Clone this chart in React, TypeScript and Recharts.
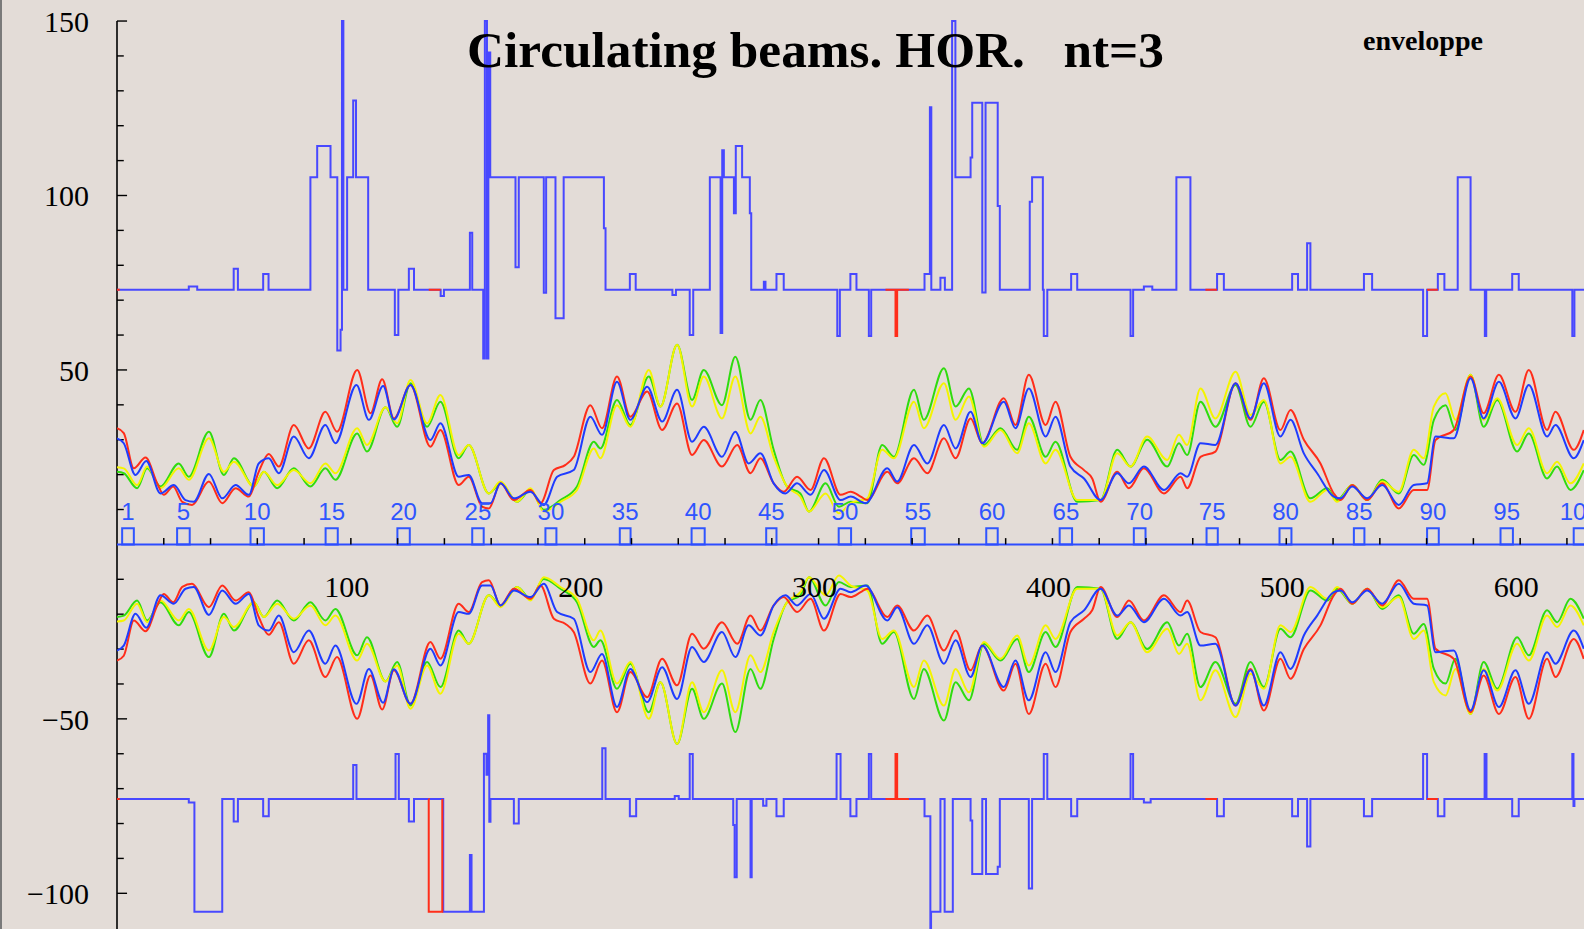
import { LineChart, Line, XAxis, YAxis, ReferenceLine, ReferenceArea, ReferenceDot } from "recharts"

const W = 1584
const H = 929
const X_MAX = 627.3
const Y_MIN = -110.23
const Y_MAX = 156.03

// envelope samples (upper half, lower half is the mirror)
const redX = [0, 2.9, 7.2, 12.2, 17.2, 20.0, 24.0, 27.9, 32.1, 39.3, 45.0, 50.7, 56.4, 60.6, 64.9, 69.2, 75.6, 82.0, 89.1, 94.1, 102.7, 108.4, 113.4, 118.4,
  125.5, 134.0, 138.3, 146.1, 150.4, 156.1, 159.0, 164.0, 169.7, 176.8, 181.1, 186.8, 191.8, 195.3, 202.4, 207.4, 213.8, 219.5, 226.7, 233.1, 239.5, 245.9, 250.9, 258.7, 265.2, 270.9, 275.1, 280.8, 285.1, 290.8,
  296.6, 302.3, 309.4, 313.7, 318.0, 320.8, 329.4, 333.6, 340.8, 346.5, 353.6, 358.6, 365.0, 370.0, 379.2, 384.2, 389.9, 397.1, 401.3, 407.7, 413.5, 417.0, 420.6, 427.7, 432.7, 439.1, 447.7, 454.8, 457.6,
  463.3, 469.7, 478.3, 484.7, 490.4, 497.5, 501.8, 507.5, 514.6, 520.3, 523.2, 528.2, 534.6, 541.0, 548.1, 554.5, 560.2, 563.8, 571.6, 578.8, 584.4, 590.9, 598.0, 603.7, 611.5, 615.1, 622.9, 627.2]
const redY = [33.3, 31.9, 21.8, 24.9, 17.5, 14.2, 16.6, 12.2, 11.3, 18, 11.8, 16.1, 13.7, 20.8, 25.9, 22.3, 34.2, 27.5, 38, 32.3, 50, 37.6, 47.3, 36.1,
  45.7, 28, 32.8, 17, 19.4, 10.8, 10.3, 17.5, 12.7, 15.6, 11.8, 21.3, 22.8, 25.1, 39.9, 33.3, 48.1, 36.6, 43.8, 32.8, 40.4, 25.6, 29.9, 22.3, 28.5, 20.4, 24.7, 17.5, 15.1, 19.4,
  15.6, 24.7, 14.2, 15.1, 13.7, 12.7, 20.8, 17.5, 24.7, 20.4, 30.4, 24.7, 36.1, 29, 41.9, 34.2, 48.6, 34.2, 40.9, 25.1, 21.3, 18.9, 12.2, 20.8, 16.1, 21.8, 14.6, 19.4, 16.1,
  25.1, 26.6, 46.2, 35.7, 47.6, 32.8, 38.5, 30, 23.2, 14.6, 12.7, 17, 12.7, 17.5, 10.3, 15.6, 15.6, 29.9, 32.8, 48.1, 37.6, 48.6, 38, 50, 32.8, 38, 27.1, 32.8]

const blueX = [0, 2.9, 7.9, 12.5, 18.6, 24.3, 29.3, 32.8, 39.3, 45.0, 50.7, 56.4, 60.6, 64.9, 69.2, 75.6, 82.0, 89.1, 93.4, 102.4, 107.7, 113.8, 118.4,
  125.5, 134.0, 138.3, 146.1, 150.4, 156.1, 159.7, 164.0, 169.7, 176.8, 182.5, 188.2, 195.3, 202.4, 207.4, 213.8, 219.5, 226.7, 233.1, 239.5, 245.9, 250.9, 258.7, 264.4, 270.1, 275.1, 280.8, 285.8, 290.8,
  296.6, 302.3, 309.4, 313.7, 320.1, 329.4, 333.6, 340.8, 346.5, 353.6, 358.6, 365.0, 370.0, 379.2, 384.2, 389.9, 397.1, 401.3, 407.7, 413.5, 420.6, 427.7, 432.7, 439.1, 447.7, 454.8, 457.6,
  463.3, 469.7, 478.3, 484.7, 490.4, 497.5, 501.8, 507.5, 513.2, 520.3, 523.2, 528.2, 534.6, 541.0, 548.1, 554.5, 560.2, 563.8, 571.6, 578.8, 584.4, 590.9, 598.0, 603.7, 611.5, 615.1, 622.9, 627.2]
const blueY = [30.4, 29, 19.9, 23.9, 14.6, 17, 12.7, 12.2, 20.2, 13.2, 17, 14.2, 23.2, 24.7, 20.4, 30.9, 24.7, 34.2, 29, 45.7, 35.7, 45.4, 35.8,
  45.7, 29.9, 34.7, 19.4, 19.9, 11.8, 11.8, 17.5, 13.2, 15.1, 11.3, 19.4, 21.3, 36.6, 31.4, 46.6, 35.7, 45.2, 35.2, 44.3, 29.4, 33.7, 25.1, 32.3, 23.2, 26.1, 17.5, 14.6, 17.5,
  14.2, 21.3, 12.7, 13.7, 11.8, 21.8, 18, 28.5, 23.2, 34.2, 27.5, 38, 29, 40.9, 33.3, 44.7, 30.9, 36.6, 22.3, 18.9, 12.7, 20.4, 17.5, 22.3, 15.6, 20.4, 19.4,
  29, 28.5, 46.2, 36.1, 46.2, 30.9, 35.7, 26.1, 20.4, 13.7, 13.2, 16.6, 13.2, 17, 11.3, 17, 17.5, 30.9, 30.4, 47.6, 36.1, 46.6, 36.1, 45.7, 30.9, 34.2, 24.7, 29.9]

// green and yellow share sample positions
const gyX = [0, 2.9, 8.6, 12.9, 18.6, 26.4, 30.7, 39.3, 45.7, 50.0, 58.5, 62.8, 68.5, 75.6, 82.7, 89.1, 93.4, 102.7, 106.9, 114.8, 119.8,
  125.5, 132.6, 138.3, 146.1, 150.4, 159.0, 164.0, 171.1, 176.8, 182.5, 189.6, 196.7, 203.9, 206.7, 213.8, 219.5, 227.4, 232.4, 239.5, 245.9, 250.9, 258.7, 264.4, 270.9, 275.1, 280.8, 286.5, 292.2,
  295.9, 303.0, 308.7, 313.7, 320.8, 327.2, 332.2, 340.8, 345.0, 353.6, 358.6, 364.3, 370.7, 377.8, 384.9, 389.9, 397.1, 401.3, 410.6, 420.6, 427.7, 433.4, 440.5, 449.1, 454.1, 457.6,
  463.3, 469.7, 478.3, 484.7, 490.4, 497.5, 501.8, 510.3, 517.5, 521.7, 528.2, 534.6, 541.0, 548.1, 554.5, 558.8, 563.1, 568.1, 572.3, 578.8, 584.4, 590.2, 598.7, 603.7, 611.5, 615.8, 621.5, 627.2]
const greenY = [20.8, 20.4, 16.1, 21.8, 16.6, 23.2, 19.4, 32.3, 19.9, 24.7, 16.6, 20.8, 16.1, 21.8, 16.6, 21.8, 18.5, 31.8, 26.6, 39.3, 33.7,
  46.2, 33.7, 40.9, 24.7, 28.5, 14.6, 17.5, 12.2, 15.6, 9.9, 12.7, 16.6, 29.4, 27.5, 41.4, 34.2, 48.1, 39.5, 57.2, 41.4, 50, 39.9, 53.8, 35.7, 41.4, 27.1, 16.6, 14.6,
  9.4, 17.5, 10.8, 12.2, 11.8, 28.5, 25.1, 44.3, 35.7, 50.5, 39.5, 44.7, 28.5, 33.3, 27.1, 36.6, 25.1, 29.4, 12.2, 12.7, 27.1, 22.3, 30, 22.3, 29, 25.6,
  40.9, 33.7, 45.7, 33.7, 40.9, 24.2, 26.6, 13.2, 16.1, 12.7, 17, 12.7, 18.5, 14.6, 25.6, 22.8, 35.7, 39.9, 32.8, 48.6, 33.7, 41.4, 26.6, 31.8, 18.9, 22.3, 15.6, 21.3]
const yellowY = [22.1, 21.8, 17, 22.3, 16.1, 21.8, 18.5, 30.4, 20.8, 23.7, 16.6, 20.8, 17, 21.3, 17.5, 23.2, 20.4, 33.3, 28.5, 39.3, 34.7,
  47.1, 34.7, 42.8, 25.6, 28.5, 14.6, 18, 12.2, 16.1, 9.4, 12.2, 15.6, 27.5, 24.7, 39.9, 33.7, 50, 39.5, 57.2, 39.5, 48.1, 36.1, 48.1, 31.8, 36.6, 25.1, 16.6, 13.7,
  9.4, 14.6, 8.9, 11.8, 13.2, 27.1, 24.7, 40.9, 33.3, 46.2, 35.7, 42.4, 28, 32.8, 26.1, 34.7, 23.2, 27.1, 12.7, 12.7, 26.1, 22.3, 30.9, 24.2, 31.4, 28.5,
  44.7, 36.1, 49.5, 37.1, 41.4, 23.2, 25.1, 12.2, 15.6, 12.2, 17, 12.7, 18, 15.1, 27.1, 24.7, 39.5, 43.3, 35.7, 48.6, 35.7, 41.9, 28.5, 33.3, 20.4, 23.7, 17.5, 23.2]

// aperture step lines: [position where the level starts, level]
const upperSteps: [number, number][] = [[0, 73], [30.7, 73.9], [34.3, 73], [49.9, 79], [51.7, 73], [62.5, 77.5], [64.8, 73], [82.7, 105.2], [85.6, 114.2], [91.3, 105.2], [94.2, 55.6], [95.6, 61.5], [96.2, 150], [96.8, 73], [98.4, 105.2], [101, 127.2], [102.2, 105.2], [107.4, 73], [118.8, 60], [120.3, 73], [124.8, 79], [127, 73], [138.4, 71.2], [139.8, 73], [150.9, 89.3], [151.9, 73], [156.6, 53.3], [157.3, 150], [158.2, 53.3], [158.8, 141], [159.6, 105.2], [170.4, 79.4], [171.8, 105.2], [182.5, 72.1], [183.5, 105.2], [187.5, 64.8], [191, 105.2], [208.2, 90.6], [208.9, 73], [219.3, 77.5], [221.8, 73], [237.5, 71.5], [239, 73], [244.9, 60], [246.4, 73], [253.5, 105.2], [258.1, 60.6], [258.8, 113], [259.5, 105.2], [263.8, 94.9], [264.6, 114.2], [267.3, 105.2], [270.6, 94.9], [271.2, 73], [276.6, 75.3], [277.3, 73], [282, 77.5], [285.1, 73], [308, 59.7], [309.1, 73], [313.6, 77.5], [316.2, 73], [321.5, 59.7], [322.5, 73], [345.3, 77.5], [347.6, 125.3], [348.2, 73], [352.1, 76.4], [354, 73], [357.1, 150], [358.5, 105.2], [365, 110.9], [365.7, 126.6], [370, 72.2], [371.4, 126.6], [376.6, 97], [377.5, 73], [390.3, 98.2], [391.3, 105.2], [395.9, 73], [396.3, 59.7], [397.8, 73], [408, 77.5], [410.6, 73], [433.4, 59.7], [434.5, 73], [439.1, 73.9], [442.7, 73], [453, 105.2], [459, 73], [470.4, 77.5], [473.3, 73], [502.5, 77.5], [505, 73], [508.9, 86.3], [510.3, 73], [533.2, 77.5], [536.7, 73], [558.5, 59.7], [560.2, 73], [564.8, 77.5], [567.6, 73], [573.3, 105.2], [578.8, 73], [584.9, 59.7], [585.5, 73], [596.6, 77.5], [599.4, 73], [622.3, 59.7], [623.2, 73], [627.3, 73]]

const lowerSteps: [number, number][] = [[0, -73], [30.7, -74], [33.1, -105.3], [45, -73], [49.9, -79.4], [51.7, -73], [62.5, -77.9], [64.9, -73], [101, -63.2], [102.4, -73], [119.1, -60.1], [120.5, -73], [124.8, -79.4], [127, -73], [139.5, -105.3], [150.9, -89], [151.6, -105.3], [156.9, -60], [158, -66], [158.7, -49], [159.2, -79.5], [159.7, -73], [169.7, -80], [171.8, -73], [207.5, -58.4], [208.9, -73], [219.3, -77.9], [222, -73], [238.5, -72.1], [240.2, -73], [244.9, -60.1], [246.2, -73], [263.5, -80.4], [264.1, -95.4], [265, -73], [270.9, -95.4], [271.4, -73], [276.3, -74.9], [277.7, -73], [282, -77.9], [285.1, -73], [307.7, -60.1], [309.4, -73], [313.6, -77.9], [316.2, -73], [321.5, -60.1], [322.5, -73], [345.3, -77.9], [347.8, -112], [348.1, -105.3], [352.1, -73], [353.9, -105.3], [357.4, -73], [365, -79.1], [365.7, -94.5], [370, -73], [371.6, -94.5], [376.6, -92.4], [377.5, -73], [389.9, -98.6], [391.3, -73], [396.3, -60.1], [397.8, -73], [408, -77.9], [410.6, -73], [433.4, -60.1], [434.5, -73], [439.1, -74], [442, -73], [470.4, -77.9], [473.3, -73], [502.5, -77.9], [505, -73], [508.9, -86.6], [510.3, -73], [533.2, -77.9], [536.7, -73], [558.5, -60.1], [560.2, -73], [564.8, -77.9], [567.6, -73], [584.8, -60.1], [585.6, -73], [596.6, -77.9], [599.4, -73], [622.3, -60.1], [622.8, -75], [623.2, -73], [627.3, -73]]

// second beam, visible only where it differs
const upperRedSteps: [number, number | null][] = [[0, 73], [1.2, 73], [1.3, null], [133.3, 73], [138.4, 73], [138.5, null], [328.6, 73], [332.9, 59.7], [333.6, 73], [338.6, 73], [338.7, null], [465.4, 73], [470.4, 73], [470.5, null], [560.2, 73], [564.8, 73]]
const lowerRedSteps: [number, number | null][] = [[0, -73], [1.2, -73], [1.3, null], [133.2, -73], [133.3, -105.3], [139.1, -73], [139.2, null], [328.6, -73], [332.9, -60.1], [333.6, -73], [338.6, -73], [338.7, null], [465.4, -73], [470.4, -73], [470.5, null], [560.2, -73], [564.8, -73]]

// element markers
const markerLabels = ["1", "5", "10", "15", "20", "25", "30", "35", "40", "45", "50", "55", "60", "65", "70", "75", "80", "85", "90", "95", "100"]
const markerStart = [2.2, 25.7, 57.1, 89.2, 119.9, 151.9, 183.2, 215, 245.7, 277.6, 308.6, 339.6, 371.7, 403.1, 434.8, 465.9, 497.1, 528.9, 560.2, 591.6, 622.9]
const markerEnd = [7.2, 31.1, 62.8, 94.4, 125.2, 156.8, 187.9, 219.6, 251.3, 282, 313.9, 345.4, 376.6, 408.4, 439.8, 470.7, 502.2, 533.4, 565.2, 596.9, 628]

const yTickLabels = [-100, -50, 50, 100, 150]
const yTicks = [-100, -90, -80, -70, -60, -50, -40, -30, -20, -10, 10, 20, 30, 40, 50, 60, 70, 80, 90, 100, 110, 120, 130, 140, 150]
const xTicks = [20, 40, 60, 80, 100, 120, 140, 160, 180, 200, 220, 240, 260, 280, 300, 320, 340, 360, 380, 400, 420, 440, 460, 480, 500, 520, 540, 560, 580, 600, 620]
const xTickLabels = [100, 200, 300, 400, 500, 600]

const SERIF = "'Liberation Serif', 'Times New Roman', serif"
const C_RED = "#ff2d1a"
const C_BLUE = "#1f3cff"
const C_GREEN = "#2fdc0e"
const C_YELLOW = "#f4f400"
const C_STEP = "#4848ff"
const C_MARK = "#2f55ff"

const pts = (xs: number[], ys: number[], sign = 1) => xs.map((x, i) => ({ x, y: sign * ys[i] }))
const stepPts = (s: [number, number | null][]) => s.map(([x, y]) => ({ x, y }))

const fmt = (v: number) => (v < 0 ? `\u2212${-v}` : `${v}`)

export default function App() {
  const env = [
    { key: "g", data: gyX, ys: greenY, color: C_GREEN },
    { key: "y", data: gyX, ys: yellowY, color: C_YELLOW },
    { key: "r", data: redX, ys: redY, color: C_RED },
    { key: "b", data: blueX, ys: blueY, color: C_BLUE },
  ]

  return (
    <div style={{ position: "absolute", left: 0, top: 0, width: W, height: H, background: "#e3dcd7", overflow: "hidden" }}>
      <LineChart width={W} height={H} margin={{ top: 0, right: 0, bottom: 0, left: 0 }}>
        <XAxis type="number" dataKey="x" domain={[0, X_MAX]} allowDataOverflow hide />
        <YAxis
          type="number"
          domain={[Y_MIN, Y_MAX]}
          allowDataOverflow
          width={117}
          ticks={yTickLabels}
          interval={0}
          axisLine={false}
          tickLine={false}
          tickSize={0}
          tickMargin={28}
          tickFormatter={fmt}
          tick={{ fill: "#000", fontSize: 30, fontFamily: SERIF }}
        />

        <ReferenceLine segment={[{ x: 0, y: 150 }, { x: 0, y: Y_MIN }]} stroke="#000" strokeWidth={1.6} />
        {yTicks.map((t) => (
          <ReferenceLine key={`yt${t}`} segment={[{ x: 0, y: t }, { x: t % 50 === 0 ? 4.3 : 2.9, y: t }]} stroke="#000" strokeWidth={1.4} />
        ))}

        {env.map((s) => (
          <Line key={`up${s.key}`} data={pts(s.data, s.ys)} dataKey="y" type="monotone" stroke={s.color} strokeWidth={2} dot={false} activeDot={false} isAnimationActive={false} />
        ))}
        {env.map((s) => (
          <Line key={`lo${s.key}`} data={pts(s.data, s.ys, -1)} dataKey="y" type="monotone" stroke={s.color} strokeWidth={2} dot={false} activeDot={false} isAnimationActive={false} />
        ))}

        <Line data={stepPts(upperSteps)} dataKey="y" type="stepAfter" stroke={C_STEP} strokeWidth={2} dot={false} activeDot={false} isAnimationActive={false} />
        <Line data={stepPts(lowerSteps)} dataKey="y" type="stepAfter" stroke={C_STEP} strokeWidth={2} dot={false} activeDot={false} isAnimationActive={false} />
        <Line data={stepPts(upperRedSteps)} dataKey="y" type="stepAfter" stroke={C_RED} strokeWidth={2} dot={false} activeDot={false} isAnimationActive={false} />
        <Line data={stepPts(lowerRedSteps)} dataKey="y" type="stepAfter" stroke={C_RED} strokeWidth={2} dot={false} activeDot={false} isAnimationActive={false} />

        <ReferenceLine y={0} stroke="#2d4cff" strokeWidth={2} />
        {xTicks.map((t) => (
          <ReferenceLine key={`xt${t}`} segment={[{ x: t, y: 0 }, { x: t, y: 1.8 }]} stroke="#000" strokeWidth={1.5} />
        ))}
        {xTickLabels.map((t) => (
          <ReferenceDot key={`xl${t}`} x={t} y={-12} r={1} fill="none" stroke="none"
            label={{ value: `${t}`, position: "center", fill: "#000", fontSize: 30, fontFamily: SERIF, dx: -4 }} />
        ))}

        {markerLabels.map((m, i) => (
          <ReferenceArea key={`ma${m}`} x1={markerStart[i]} x2={markerEnd[i]} y1={0} y2={4.6} ifOverflow="visible"
            fill="none" stroke={C_MARK} strokeWidth={2} />
        ))}
        {markerLabels.map((m, i) => (
          <ReferenceDot key={`ml${m}`} x={(markerStart[i] + markerEnd[i]) / 2} y={9.4} r={1} fill="none" stroke="none" ifOverflow="visible"
            label={{ value: m, position: "center", fill: C_MARK, fontSize: 24, fontFamily: "'Liberation Sans', Arial, sans-serif" }} />
        ))}
      </LineChart>

      <svg width={W} height={H} style={{ position: "absolute", left: 0, top: 0, pointerEvents: "none" }}>
        <line x1={1} y1={0} x2={1} y2={H} stroke="#7a7a7a" strokeWidth={2} />
        <text x={467} y={67} fontFamily={SERIF} fontWeight="bold" fontSize={50} textLength={697} lengthAdjust="spacingAndGlyphs" style={{ whiteSpace: "pre" }}>
          {"Circulating beams. HOR.   nt=3"}
        </text>
        <text x={1363} y={50} fontFamily={SERIF} fontWeight="bold" fontSize={27} textLength={120} lengthAdjust="spacingAndGlyphs">
          enveloppe
        </text>
      </svg>
    </div>
  )
}
